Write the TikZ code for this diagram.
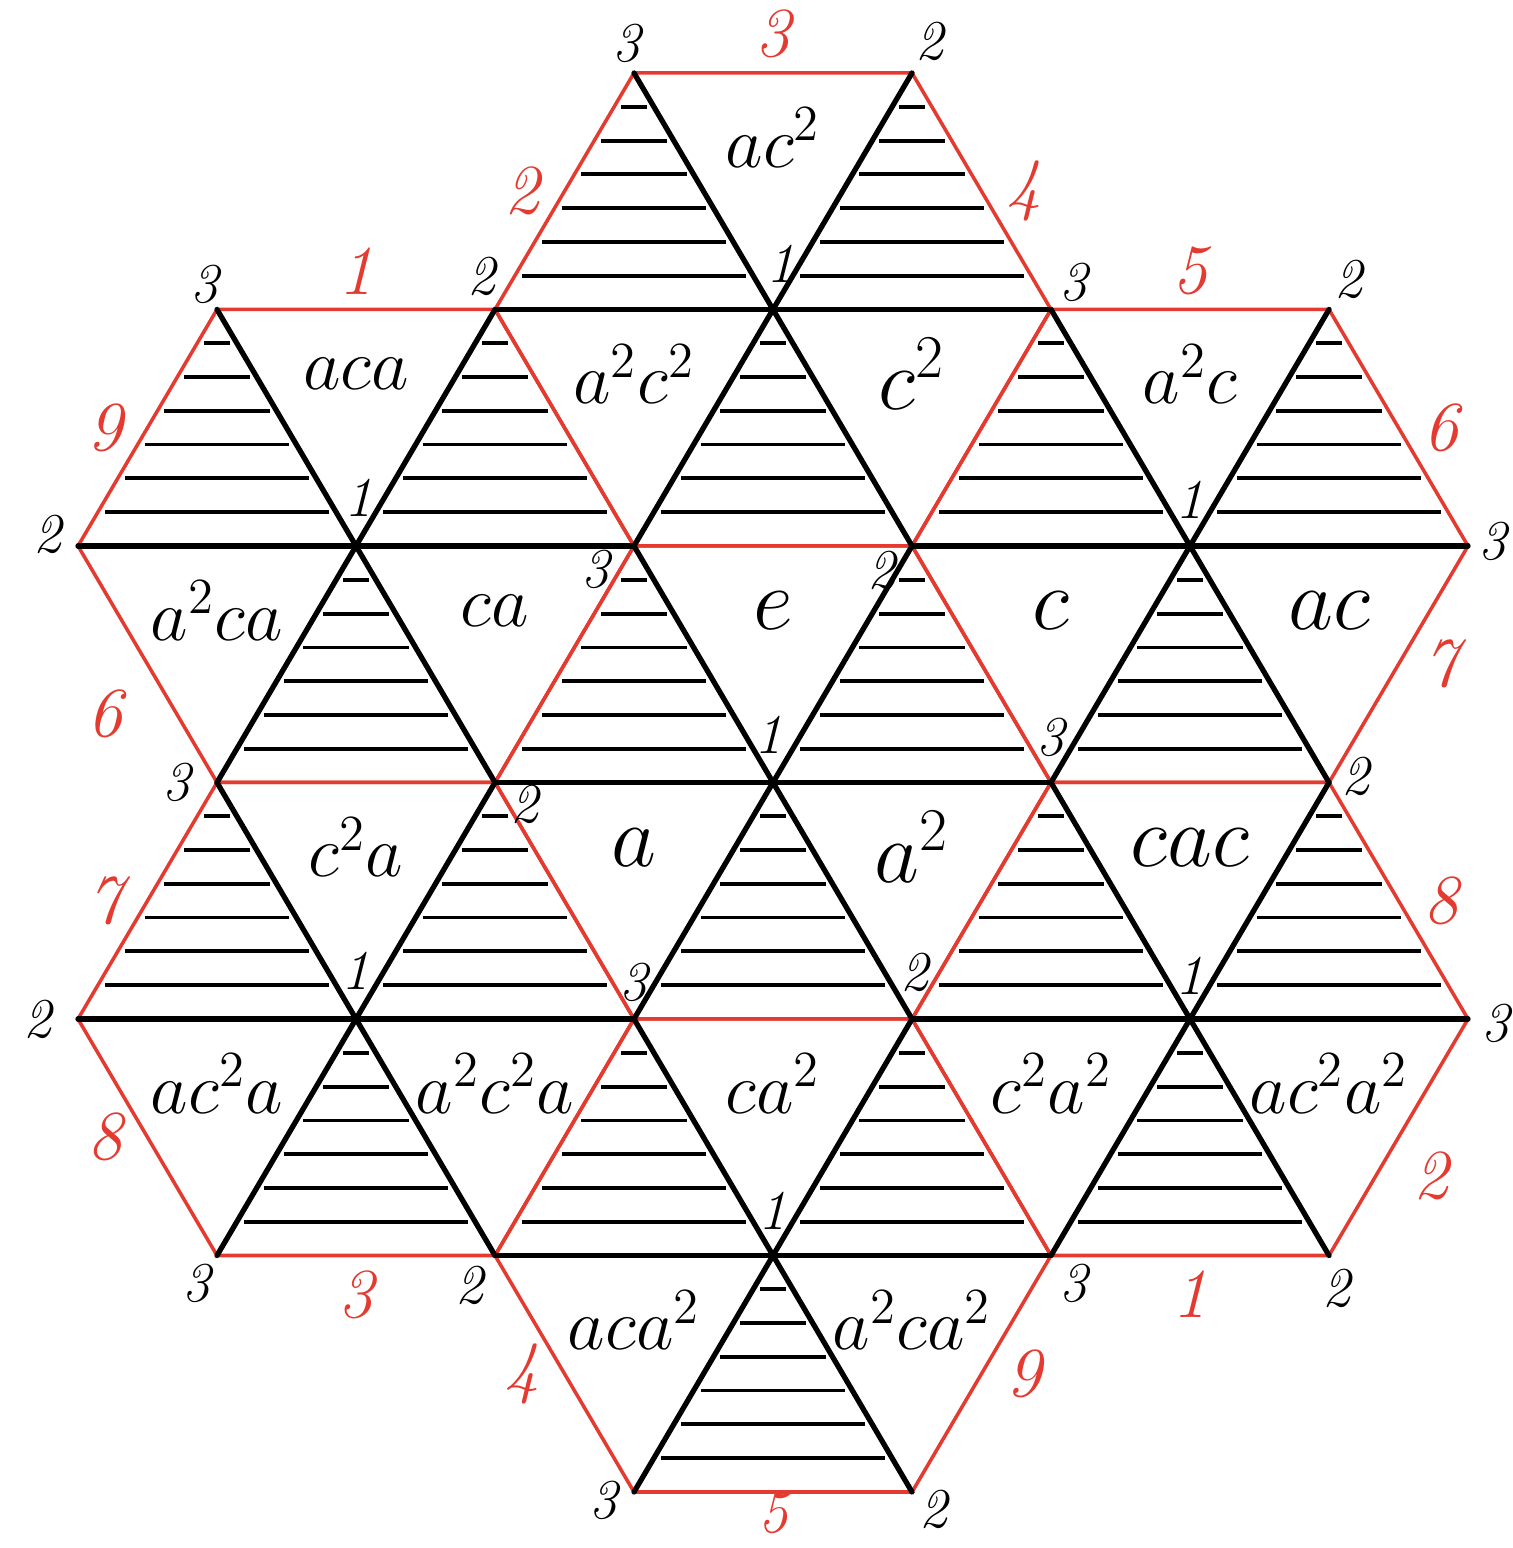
\documentclass[tikz,border=0pt]{standalone}
\usepackage{amsmath}
\usetikzlibrary{calc}
\definecolor{seamred}{RGB}{228,58,48}

\begin{document}
\begin{tikzpicture}[
    seam/.style={draw=seamred, line width=1pt, line join=round},
    spoke/.style={line width=1.5pt, line cap=round},
    hatch/.style={line width=1.1pt, shorten <=2pt, shorten >=2pt},
    word/.style={font=\fontsize{20}{22}\selectfont, inner sep=0pt, yshift=4pt},
    bigword/.style={font=\fontsize{25}{28}\selectfont, inner sep=0pt, yshift=4pt},
    num/.style={font=\fontsize{16}{18}\selectfont\itshape, inner sep=1pt},
    tag/.style={font=\fontsize{20}{22}\selectfont\itshape, text=seamred, inner sep=4pt},
    sidetag/.style={tag, inner sep=7pt}
]
\useasboundingbox (0,0) rectangle (15.12,15.48);

% lattice points p-row-column
\foreach \r in {0,...,6}
  \foreach \j in {0,...,10}
    \coordinate (p-\r-\j) at ({0.78+1.39*\j},{14.75-2.365*\r});

% hatched upward triangles
\foreach \r/\j in {0/4,0/6,1/1,1/3,1/5,1/7,1/9,2/2,2/4,2/6,2/8,3/1,3/3,3/5,3/7,3/9,4/2,4/4,4/6,4/8,5/5} {
  \pgfmathtruncatemacro\rd{\r+1}
  \pgfmathtruncatemacro\jl{\j-1}
  \pgfmathtruncatemacro\jr{\j+1}
  \foreach \t in {0.143,0.286,0.429,0.571,0.714,0.857}
    \draw[hatch] ($(p-\r-\j)!\t!(p-\rd-\jl)$) -- ($(p-\r-\j)!\t!(p-\rd-\jr)$);
}

% hexagon outlines
\foreach \r/\j in {1/5,2/2,2/8,3/5,4/2,4/8,5/5} {
  \pgfmathtruncatemacro\ru{\r-1}
  \pgfmathtruncatemacro\rd{\r+1}
  \pgfmathtruncatemacro\jl{\j-1}
  \pgfmathtruncatemacro\jr{\j+1}
  \pgfmathtruncatemacro\jll{\j-2}
  \pgfmathtruncatemacro\jrr{\j+2}
  \draw[seam] (p-\ru-\jl) -- (p-\ru-\jr) -- (p-\r-\jrr) -- (p-\rd-\jr) -- (p-\rd-\jl) -- (p-\r-\jll) -- cycle;
}

% spokes through the hexagon centres
\foreach \r/\j in {1/5,2/2,2/8,3/5,4/2,4/8,5/5} {
  \pgfmathtruncatemacro\ru{\r-1}
  \pgfmathtruncatemacro\rd{\r+1}
  \pgfmathtruncatemacro\jl{\j-1}
  \pgfmathtruncatemacro\jr{\j+1}
  \pgfmathtruncatemacro\jll{\j-2}
  \pgfmathtruncatemacro\jrr{\j+2}
  \draw[spoke] (p-\r-\jll) -- (p-\r-\jrr);
  \draw[spoke] (p-\ru-\jl) -- (p-\rd-\jr);
  \draw[spoke] (p-\ru-\jr) -- (p-\rd-\jl);
}

% group elements
\node[word] (ac2) at (barycentric cs:p-0-4=1,p-0-6=1,p-1-5=1) {$ac^2$};
\node[word] (aca) at (barycentric cs:p-1-1=1,p-1-3=1,p-2-2=1) {$aca$};
\node[word] (a2c2) at (barycentric cs:p-1-3=1,p-1-5=1,p-2-4=1) {$a^2c^2$};
\node[bigword] (c2) at (barycentric cs:p-1-5=1,p-1-7=1,p-2-6=1) {$c^2$};
\node[word] (a2c) at (barycentric cs:p-1-7=1,p-1-9=1,p-2-8=1) {$a^2c$};
\node[word] (a2ca) at (barycentric cs:p-2-0=1,p-2-2=1,p-3-1=1) {$a^2ca$};
\node[word] (ca) at (barycentric cs:p-2-2=1,p-2-4=1,p-3-3=1) {$ca$};
\node[bigword] (e) at (barycentric cs:p-2-4=1,p-2-6=1,p-3-5=1) {$e$};
\node[bigword] (c) at (barycentric cs:p-2-6=1,p-2-8=1,p-3-7=1) {$c$};
\node[bigword] (ac) at (barycentric cs:p-2-8=1,p-2-10=1,p-3-9=1) {$ac$};
\node[word] (c2a) at (barycentric cs:p-3-1=1,p-3-3=1,p-4-2=1) {$c^2a$};
\node[bigword] (a) at (barycentric cs:p-3-3=1,p-3-5=1,p-4-4=1) {$a$};
\node[bigword] (a2) at (barycentric cs:p-3-5=1,p-3-7=1,p-4-6=1) {$a^2$};
\node[bigword] (cac) at (barycentric cs:p-3-7=1,p-3-9=1,p-4-8=1) {$cac$};
\node[word] (ac2a) at (barycentric cs:p-4-0=1,p-4-2=1,p-5-1=1) {$ac^2a$};
\node[word] (a2c2a) at (barycentric cs:p-4-2=1,p-4-4=1,p-5-3=1) {$a^2c^2a$};
\node[word] (ca2) at (barycentric cs:p-4-4=1,p-4-6=1,p-5-5=1) {$ca^2$};
\node[word] (c2a2) at (barycentric cs:p-4-6=1,p-4-8=1,p-5-7=1) {$c^2a^2$};
\node[word] (ac2a2) at (barycentric cs:p-4-8=1,p-4-10=1,p-5-9=1) {$ac^2a^2$};
\node[word] (aca2) at (barycentric cs:p-5-3=1,p-5-5=1,p-6-4=1) {$aca^2$};
\node[word] (a2ca2) at (barycentric cs:p-5-5=1,p-5-7=1,p-6-6=1) {$a^2ca^2$};

% vertex numbers, offset from their vertex
\foreach \r/\j/\n/\dx/\dy in {0/4/3/-0.07/0.30, 0/6/2/0.18/0.32, 1/1/3/-0.12/0.25, 1/3/2/-0.13/0.33,
    1/7/3/0.23/0.27, 1/9/2/0.2/0.3, 2/0/2/-0.3/0.12, 2/4/3/-0.38/-0.23, 2/6/2/-0.3/-0.24,
    2/10/3/0.25/0.05, 3/1/3/-0.4/0, 3/3/2/0.3/-0.22, 3/9/2/0.27/0.06, 4/0/2/-0.4/0,
    4/4/3/0/0.37, 4/10/3/0.28/-0.04, 5/1/3/-0.2/-0.28, 5/3/2/-0.25/-0.3, 5/7/3/0.23/-0.28,
    5/9/2/0.08/-0.33, 6/4/3/-0.3/-0.08, 6/6/2/0.22/-0.17,
    1/5/1/0.08/0.46, 2/2/1/0.03/0.48, 2/8/1/0/0.46, 3/5/1/-0.04/0.48, 3/7/3/0/0.45,
    4/2/1/0/0.48, 4/6/2/0.03/0.47, 4/8/1/0/0.43, 5/5/1/0/0.45}
  \node[num] (v-\r-\j) at ($(p-\r-\j)+(\dx,\dy)$) {\n};

% edge numbers
\path (p-0-4) -- (p-0-6) node[midway, tag, anchor=south] (t1) {3};
\path (p-0-4) -- (p-1-3) node[midway, sidetag, anchor=east] (t2) {2};
\path (p-0-6) -- (p-1-7) node[midway, sidetag, anchor=west] (t3) {4};
\path (p-1-1) -- (p-1-3) node[midway, tag, anchor=south] (t4) {1};
\path (p-1-7) -- (p-1-9) node[midway, tag, anchor=south] (t5) {5};
\path (p-1-1) -- (p-2-0) node[midway, sidetag, anchor=east] (t6) {9};
\path (p-1-9) -- (p-2-10) node[midway, sidetag, anchor=west] (t7) {6};
\path (p-2-0) -- (p-3-1) node[midway, sidetag, anchor=north east] (t8) {6};
\path (p-2-10) -- (p-3-9) node[midway, sidetag, anchor=west] (t9) {7};
\path (p-3-1) -- (p-4-0) node[midway, sidetag, anchor=east] (t10) {7};
\path (p-3-9) -- (p-4-10) node[midway, sidetag, anchor=west] (t11) {8};
\path (p-4-0) -- (p-5-1) node[midway, sidetag, anchor=east] (t12) {8};
\path (p-4-10) -- (p-5-9) node[midway, tag, anchor=north west] (t13) {2};
\path (p-5-1) -- (p-5-3) node[midway, tag, anchor=north] (t14) {3};
\path (p-5-7) -- (p-5-9) node[midway, tag, anchor=north] (t15) {1};
\path (p-5-3) -- (p-6-4) node[midway, sidetag, anchor=east] (t16) {4};
\path (p-5-7) -- (p-6-6) node[midway, sidetag, anchor=west] (t17) {9};
\path (p-6-4) -- (p-6-6) node[midway, tag, anchor=north, inner sep=0pt, font=\fontsize{17}{18}\selectfont\itshape] (t18) {5};
\end{tikzpicture}
\end{document}
